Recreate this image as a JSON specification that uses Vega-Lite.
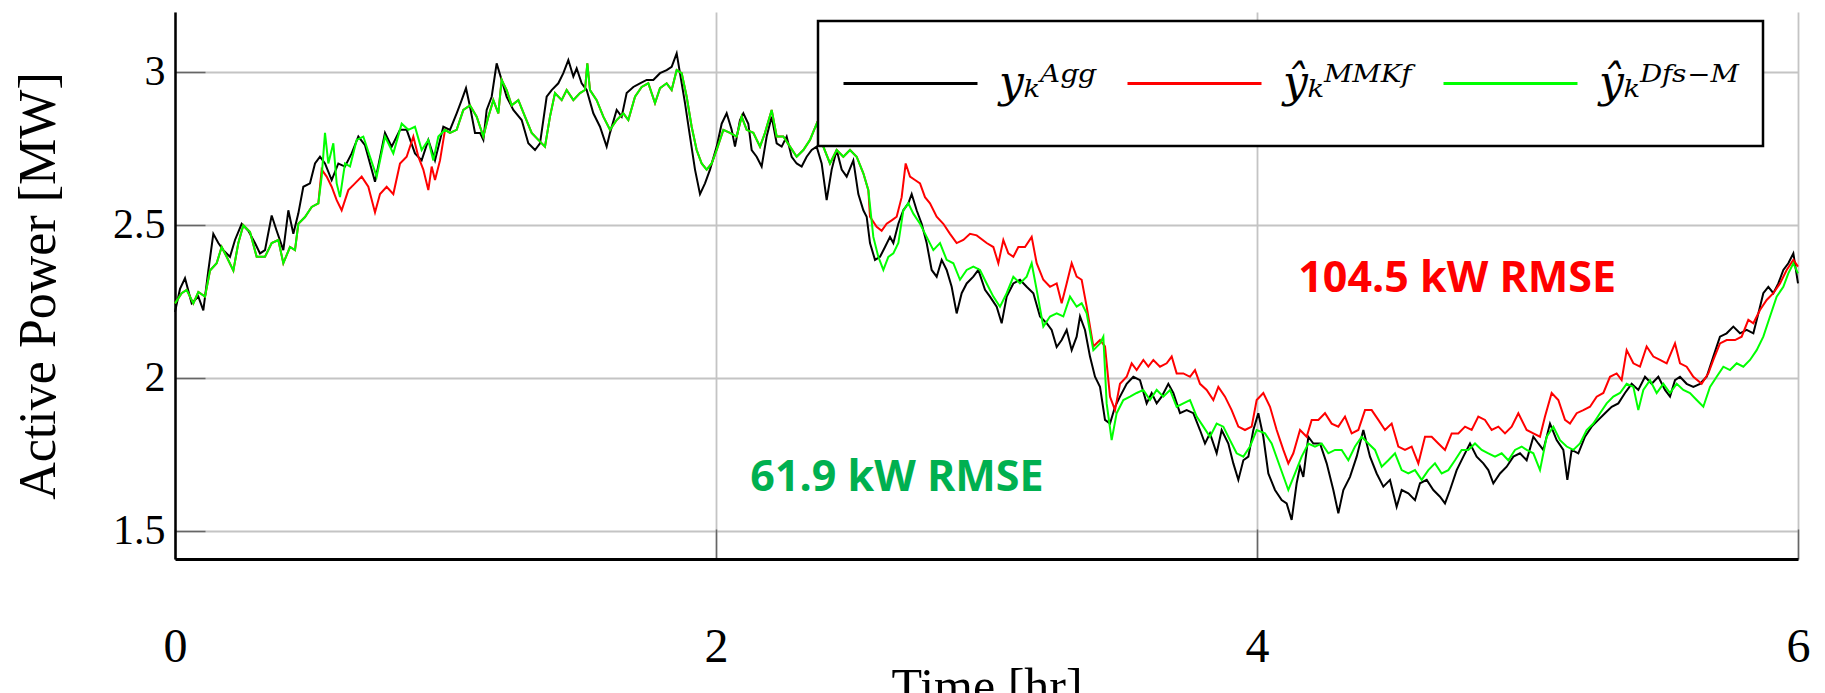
{
  "$schema": "https://vega.github.io/schema/vega-lite/v6.json",
  "width": 1623,
  "height": 547,
  "autosize": {"type": "none"},
  "padding": {"left": 175, "top": 12, "right": 27, "bottom": 134},
  "background": "white",
  "config": {
    "view": {"stroke": null},
    "legend": {"strokeWidth": 2.5}
  },
  "datasets": {
    "agg": [
      {"t":0,"v":2.215},{"t":0.0185,"v":2.29},{"t":0.037,"v":2.325},{"t":0.0616,"v":2.243},{"t":0.0863,"v":2.265},{"t":0.1047,"v":2.22},{"t":0.1232,"v":2.35},{"t":0.1417,"v":2.47},{"t":0.1602,"v":2.44},{"t":0.1787,"v":2.417},{"t":0.2033,"v":2.395},{"t":0.2218,"v":2.45},{"t":0.2465,"v":2.503},{"t":0.2711,"v":2.48},{"t":0.2957,"v":2.44},{"t":0.3142,"v":2.406},{"t":0.3327,"v":2.417},{"t":0.3574,"v":2.53},{"t":0.3758,"v":2.48},{"t":0.4005,"v":2.417},{"t":0.419,"v":2.547},{"t":0.4375,"v":2.47},{"t":0.456,"v":2.537},{"t":0.4744,"v":2.624},{"t":0.4991,"v":2.635},{"t":0.5176,"v":2.7},{"t":0.536,"v":2.722},{"t":0.5545,"v":2.7},{"t":0.5792,"v":2.646},{"t":0.6038,"v":2.7},{"t":0.6285,"v":2.69},{"t":0.6531,"v":2.733},{"t":0.6778,"v":2.788},{"t":0.7024,"v":2.76},{"t":0.7394,"v":2.64},{"t":0.7763,"v":2.8},{"t":0.801,"v":2.755},{"t":0.8318,"v":2.81},{"t":0.8564,"v":2.81},{"t":0.8872,"v":2.733},{"t":0.9119,"v":2.71},{"t":0.9365,"v":2.777},{"t":0.9612,"v":2.71},{"t":0.992,"v":2.82},
      {"t":1.0166,"v":2.81},{"t":1.0413,"v":2.864},{"t":1.0598,"v":2.907},{"t":1.0758,"v":2.946},{"t":1.0906,"v":2.886},{"t":1.1091,"v":2.8},{"t":1.1275,"v":2.8},{"t":1.1399,"v":2.777},{"t":1.1522,"v":2.875},{"t":1.1707,"v":2.918},{"t":1.1891,"v":3.027},{"t":1.2076,"v":2.973},{"t":1.2261,"v":2.918},{"t":1.2508,"v":2.875},{"t":1.2816,"v":2.842},{"t":1.3062,"v":2.766},{"t":1.3309,"v":2.744},{"t":1.3494,"v":2.766},{"t":1.374,"v":2.918},{"t":1.3925,"v":2.94},{"t":1.4171,"v":2.962},{"t":1.4356,"v":2.995},{"t":1.4541,"v":3.038},{"t":1.4726,"v":2.984},{"t":1.4849,"v":3.011},{"t":1.5034,"v":2.962},{"t":1.5219,"v":2.94},{"t":1.5465,"v":2.864},{"t":1.5712,"v":2.82},{"t":1.5958,"v":2.755},{"t":1.6081,"v":2.8},{"t":1.6328,"v":2.875},{"t":1.6513,"v":2.853},{"t":1.6697,"v":2.93},{"t":1.6944,"v":2.95},{"t":1.719,"v":2.962},{"t":1.7437,"v":2.973},{"t":1.7683,"v":2.973},{"t":1.793,"v":2.995},{"t":1.8176,"v":3.005},{"t":1.8361,"v":3.016},{"t":1.8546,"v":3.06},{"t":1.8669,"v":2.995},{"t":1.8854,"v":2.897},{"t":1.9039,"v":2.788},{"t":1.9224,"v":2.68},{"t":1.9409,"v":2.6},{"t":1.9593,"v":2.635},{"t":1.9778,"v":2.68},
      {"t":2.0025,"v":2.755},{"t":2.021,"v":2.83},{"t":2.0394,"v":2.864},{"t":2.0579,"v":2.81},{"t":2.0702,"v":2.755},{"t":2.0887,"v":2.842},{"t":2.1011,"v":2.864},{"t":2.1195,"v":2.83},{"t":2.1319,"v":2.744},{"t":2.1503,"v":2.722},{"t":2.1688,"v":2.69},{"t":2.1873,"v":2.788},{"t":2.2058,"v":2.853},{"t":2.2243,"v":2.766},{"t":2.2428,"v":2.755},{"t":2.2612,"v":2.788},{"t":2.2797,"v":2.722},{"t":2.2982,"v":2.7},{"t":2.3167,"v":2.69},{"t":2.3352,"v":2.722},{"t":2.3537,"v":2.744},{"t":2.3721,"v":2.755},{"t":2.3906,"v":2.7},{"t":2.4091,"v":2.58},{"t":2.4276,"v":2.68},{"t":2.4461,"v":2.744},{"t":2.4646,"v":2.68},{"t":2.4831,"v":2.657},{"t":2.5077,"v":2.71},{"t":2.5262,"v":2.6},{"t":2.5447,"v":2.547},{"t":2.557,"v":2.526},{"t":2.5693,"v":2.44},{"t":2.5878,"v":2.385},{"t":2.6063,"v":2.395},{"t":2.6248,"v":2.427},{"t":2.6433,"v":2.46},{"t":2.6556,"v":2.44},{"t":2.6741,"v":2.503},{"t":2.6925,"v":2.547},{"t":2.711,"v":2.57},{"t":2.7234,"v":2.6},{"t":2.7418,"v":2.547},{"t":2.7603,"v":2.503},{"t":2.7788,"v":2.44},{"t":2.7973,"v":2.352},{"t":2.8158,"v":2.33},{"t":2.8343,"v":2.385},{"t":2.8527,"v":2.352},{"t":2.8712,"v":2.297},{"t":2.8897,"v":2.21},{"t":2.9082,"v":2.276},{"t":2.9267,"v":2.308},{"t":2.9513,"v":2.33},{"t":2.9698,"v":2.352},
      {"t":2.9945,"v":2.287},{"t":3.0129,"v":2.265},{"t":3.0376,"v":2.232},{"t":3.0561,"v":2.178},{"t":3.0746,"v":2.265},{"t":3.0992,"v":2.308},{"t":3.1238,"v":2.32},{"t":3.1485,"v":2.297},{"t":3.1732,"v":2.276},{"t":3.1978,"v":2.2},{"t":3.2224,"v":2.178},{"t":3.2409,"v":2.156},{"t":3.2594,"v":2.1},{"t":3.2779,"v":2.123},{"t":3.2964,"v":2.156},{"t":3.3149,"v":2.09},{"t":3.3333,"v":2.134},{"t":3.3457,"v":2.2},{"t":3.3641,"v":2.156},{"t":3.3826,"v":2.069},{"t":3.4011,"v":2.003},{"t":3.4196,"v":1.97},{"t":3.4381,"v":1.862},{"t":3.4566,"v":1.85},{"t":3.4751,"v":1.905},{"t":3.4935,"v":1.938},{"t":3.5182,"v":1.98},{"t":3.5428,"v":2.003},{"t":3.5675,"v":1.992},{"t":3.5921,"v":1.916},{"t":3.6106,"v":1.95},{"t":3.6291,"v":1.916},{"t":3.6476,"v":1.938},{"t":3.6722,"v":1.98},{"t":3.6907,"v":1.95},{"t":3.7153,"v":1.884},{"t":3.74,"v":1.894},{"t":3.7646,"v":1.884},{"t":3.7893,"v":1.829},{"t":3.8078,"v":1.785},{"t":3.8262,"v":1.818},{"t":3.8509,"v":1.753},{"t":3.8694,"v":1.829},{"t":3.894,"v":1.785},{"t":3.9125,"v":1.72},{"t":3.931,"v":1.666},{"t":3.9495,"v":1.73},{"t":3.968,"v":1.742},{"t":3.9865,"v":1.829},
      {"t":4.0049,"v":1.884},{"t":4.0234,"v":1.807},{"t":4.0419,"v":1.687},{"t":4.0665,"v":1.633},{"t":4.0912,"v":1.6},{"t":4.1096,"v":1.589},{"t":4.1281,"v":1.535},{"t":4.1466,"v":1.655},{"t":4.159,"v":1.709},{"t":4.1713,"v":1.676},{"t":4.1898,"v":1.807},{"t":4.2083,"v":1.785},{"t":4.2329,"v":1.785},{"t":4.2576,"v":1.72},{"t":4.2822,"v":1.633},{"t":4.3007,"v":1.557},{"t":4.3192,"v":1.633},{"t":4.3438,"v":1.676},{"t":4.3685,"v":1.742},{"t":4.3931,"v":1.829},{"t":4.4178,"v":1.742},{"t":4.4424,"v":1.687},{"t":4.4671,"v":1.644},{"t":4.4917,"v":1.666},{"t":4.5163,"v":1.578},{"t":4.5348,"v":1.633},{"t":4.5595,"v":1.622},{"t":4.5841,"v":1.6},{"t":4.6026,"v":1.655},{"t":4.6273,"v":1.666},{"t":4.6519,"v":1.633},{"t":4.6765,"v":1.611},{"t":4.695,"v":1.589},{"t":4.7135,"v":1.633},{"t":4.7382,"v":1.698},{"t":4.7628,"v":1.742},{"t":4.7875,"v":1.785},{"t":4.8121,"v":1.742},{"t":4.8367,"v":1.72},{"t":4.8552,"v":1.698},{"t":4.8737,"v":1.655},{"t":4.8984,"v":1.687},{"t":4.923,"v":1.709},{"t":4.9477,"v":1.742},{"t":4.9723,"v":1.753},
      {"t":4.9969,"v":1.73},{"t":5.0216,"v":1.807},{"t":5.04,"v":1.785},{"t":5.0585,"v":1.764},{"t":5.0832,"v":1.85},{"t":5.1078,"v":1.796},{"t":5.1325,"v":1.764},{"t":5.1473,"v":1.666},{"t":5.1633,"v":1.764},{"t":5.1879,"v":1.753},{"t":5.2126,"v":1.807},{"t":5.2372,"v":1.84},{"t":5.2619,"v":1.862},{"t":5.2865,"v":1.884},{"t":5.3112,"v":1.905},{"t":5.3358,"v":1.916},{"t":5.3604,"v":1.95},{"t":5.3851,"v":1.98},{"t":5.4097,"v":1.96},{"t":5.4344,"v":2.003},{"t":5.459,"v":1.98},{"t":5.4837,"v":2.003},{"t":5.5083,"v":1.96},{"t":5.5268,"v":1.938},{"t":5.5453,"v":1.992},{"t":5.5638,"v":2.003},{"t":5.5884,"v":1.98},{"t":5.6131,"v":1.97},{"t":5.6377,"v":1.98},{"t":5.6624,"v":2.003},{"t":5.687,"v":2.069},{"t":5.7116,"v":2.134},{"t":5.7363,"v":2.145},{"t":5.7609,"v":2.167},{"t":5.7856,"v":2.145},{"t":5.8102,"v":2.156},{"t":5.8349,"v":2.145},{"t":5.8534,"v":2.21},{"t":5.8718,"v":2.276},{"t":5.8903,"v":2.297},{"t":5.9088,"v":2.276},{"t":5.9273,"v":2.308},{"t":5.9458,"v":2.352},{"t":5.9643,"v":2.374},{"t":5.9828,"v":2.406},{"t":6,"v":2.308}
    ],
    "mmkf": [
      {"t":0,"v":2.243},{"t":0.0246,"v":2.276},{"t":0.0431,"v":2.287},{"t":0.0678,"v":2.243},{"t":0.0863,"v":2.28},{"t":0.1109,"v":2.265},{"t":0.1294,"v":2.35},{"t":0.154,"v":2.374},{"t":0.1725,"v":2.427},{"t":0.191,"v":2.395},{"t":0.2157,"v":2.35},{"t":0.2341,"v":2.44},{"t":0.2526,"v":2.498},{"t":0.2773,"v":2.476},{"t":0.3019,"v":2.395},{"t":0.3327,"v":2.395},{"t":0.3574,"v":2.44},{"t":0.382,"v":2.45},{"t":0.4005,"v":2.374},{"t":0.4251,"v":2.427},{"t":0.4436,"v":2.417},{"t":0.456,"v":2.503},{"t":0.4806,"v":2.525},{"t":0.5052,"v":2.558},{"t":0.5299,"v":2.57},
      {"t":0.5422,"v":2.68},{"t":0.5607,"v":2.657},{"t":0.5792,"v":2.624},{"t":0.5977,"v":2.58},{"t":0.6161,"v":2.547},{"t":0.6408,"v":2.613},{"t":0.6654,"v":2.635},{"t":0.6901,"v":2.657},{"t":0.7147,"v":2.624},{"t":0.7394,"v":2.54},{"t":0.7579,"v":2.6},{"t":0.7825,"v":2.624},{"t":0.8071,"v":2.6},{"t":0.8318,"v":2.7},{"t":0.8564,"v":2.722},{"t":0.8811,"v":2.788},{"t":0.8996,"v":2.722},{"t":0.918,"v":2.68},{"t":0.9365,"v":2.613},{"t":0.9489,"v":2.69},{"t":0.9612,"v":2.646},{"t":0.9797,"v":2.71},{"t":0.9982,"v":2.81},
      {"t":1.0166,"v":2.8},{"t":1.0413,"v":2.81},{"t":1.0659,"v":2.875},{"t":1.0906,"v":2.89},{"t":1.1152,"v":2.853},{"t":1.1399,"v":2.788},{"t":1.1584,"v":2.853},{"t":1.1768,"v":2.907},{"t":1.1953,"v":2.864},{"t":1.2076,"v":2.973},{"t":1.2261,"v":2.94},{"t":1.2446,"v":2.89},{"t":1.2693,"v":2.907},{"t":1.2939,"v":2.853},{"t":1.3186,"v":2.8},{"t":1.3432,"v":2.777},{"t":1.3678,"v":2.755},{"t":1.3863,"v":2.853},{"t":1.4048,"v":2.93},{"t":1.4295,"v":2.907},{"t":1.4479,"v":2.94},{"t":1.4726,"v":2.907},{"t":1.4972,"v":2.93},{"t":1.5157,"v":2.94},{"t":1.5243,"v":3.027},{"t":1.5342,"v":2.94},{"t":1.5588,"v":2.907},{"t":1.5835,"v":2.853},{"t":1.6081,"v":2.81},{"t":1.6328,"v":2.842},{"t":1.6574,"v":2.864},{"t":1.6759,"v":2.842},{"t":1.7006,"v":2.918},{"t":1.7252,"v":2.95},{"t":1.7498,"v":2.962},{"t":1.7745,"v":2.897},{"t":1.793,"v":2.946},{"t":1.8176,"v":2.962},{"t":1.8361,"v":2.94},{"t":1.8546,"v":3.005},{"t":1.8731,"v":2.995},{"t":1.8916,"v":2.918},{"t":1.91,"v":2.82},{"t":1.9285,"v":2.744},{"t":1.947,"v":2.7},{"t":1.9655,"v":2.68},{"t":1.984,"v":2.7},
      {"t":2.0025,"v":2.744},{"t":2.0271,"v":2.81},{"t":2.0518,"v":2.8},{"t":2.0764,"v":2.788},{"t":2.0949,"v":2.853},{"t":2.1134,"v":2.81},{"t":2.138,"v":2.8},{"t":2.1627,"v":2.755},{"t":2.1811,"v":2.8},{"t":2.2058,"v":2.875},{"t":2.2243,"v":2.788},{"t":2.2489,"v":2.788},{"t":2.2736,"v":2.755},{"t":2.2982,"v":2.722},{"t":2.3229,"v":2.744},{"t":2.3475,"v":2.777},{"t":2.3721,"v":2.83},{"t":2.3968,"v":2.755},{"t":2.4214,"v":2.7},{"t":2.4461,"v":2.744},{"t":2.4707,"v":2.722},{"t":2.4954,"v":2.744},{"t":2.52,"v":2.722},{"t":2.5447,"v":2.668},{"t":2.5632,"v":2.613},
      {"t":2.5693,"v":2.526},{"t":2.5939,"v":2.493},{"t":2.6124,"v":2.48},{"t":2.6309,"v":2.503},{"t":2.6494,"v":2.514},{"t":2.6679,"v":2.526},{"t":2.6864,"v":2.59},{"t":2.7012,"v":2.7},{"t":2.7172,"v":2.657},{"t":2.7357,"v":2.646},{"t":2.7542,"v":2.635},{"t":2.7726,"v":2.59},{"t":2.7911,"v":2.57},{"t":2.8158,"v":2.526},{"t":2.8404,"v":2.503},{"t":2.8651,"v":2.47},{"t":2.8897,"v":2.44},{"t":2.9144,"v":2.45},{"t":2.939,"v":2.47},{"t":2.9637,"v":2.465},
      {"t":3.0006,"v":2.44},{"t":3.0253,"v":2.427},{"t":3.0438,"v":2.374},{"t":3.0622,"v":2.45},{"t":3.0807,"v":2.406},{"t":3.0992,"v":2.395},{"t":3.1177,"v":2.427},{"t":3.1423,"v":2.427},{"t":3.167,"v":2.46},{"t":3.1855,"v":2.374},{"t":3.2101,"v":2.32},{"t":3.2348,"v":2.297},{"t":3.2594,"v":2.308},{"t":3.2779,"v":2.243},{"t":3.2964,"v":2.308},{"t":3.3149,"v":2.374},{"t":3.3333,"v":2.33},{"t":3.3518,"v":2.32},{"t":3.3703,"v":2.232},{"t":3.395,"v":2.102},{"t":3.4196,"v":2.123},{"t":3.4381,"v":2.102},{"t":3.4566,"v":1.938},{"t":3.4751,"v":1.894},{"t":3.4935,"v":1.98},{"t":3.5182,"v":2.003},{"t":3.5367,"v":2.047},{"t":3.5551,"v":2.025},{"t":3.5798,"v":2.058},{"t":3.5983,"v":2.036},{"t":3.6168,"v":2.058},{"t":3.6414,"v":2.036},{"t":3.6661,"v":2.047},{"t":3.6846,"v":2.069},{"t":3.703,"v":2.014},{"t":3.7277,"v":2.014},{"t":3.7523,"v":2.003},{"t":3.7708,"v":2.025},{"t":3.7893,"v":1.98},{"t":3.8139,"v":1.96},{"t":3.8386,"v":1.927},{"t":3.8571,"v":1.97},{"t":3.8817,"v":1.938},{"t":3.9063,"v":1.894},{"t":3.931,"v":1.84},{"t":3.9556,"v":1.829},{"t":3.9803,"v":1.84},
      {"t":3.9988,"v":1.927},{"t":4.0234,"v":1.95},{"t":4.0481,"v":1.905},{"t":4.0727,"v":1.829},{"t":4.0974,"v":1.764},{"t":4.1158,"v":1.72},{"t":4.1343,"v":1.753},{"t":4.159,"v":1.829},{"t":4.1836,"v":1.807},{"t":4.2021,"v":1.862},{"t":4.2267,"v":1.862},{"t":4.2514,"v":1.884},{"t":4.276,"v":1.85},{"t":4.3007,"v":1.84},{"t":4.3253,"v":1.873},{"t":4.35,"v":1.818},{"t":4.3746,"v":1.829},{"t":4.3993,"v":1.894},{"t":4.4239,"v":1.894},{"t":4.4486,"v":1.862},{"t":4.4732,"v":1.829},{"t":4.4978,"v":1.85},{"t":4.5225,"v":1.775},{"t":4.5471,"v":1.764},{"t":4.5718,"v":1.775},{"t":4.5964,"v":1.72},{"t":4.6211,"v":1.807},{"t":4.6457,"v":1.807},{"t":4.6704,"v":1.785},{"t":4.695,"v":1.764},{"t":4.7197,"v":1.818},{"t":4.7443,"v":1.818},{"t":4.769,"v":1.84},{"t":4.7936,"v":1.829},{"t":4.8182,"v":1.873},{"t":4.8429,"v":1.862},{"t":4.8675,"v":1.829},{"t":4.8922,"v":1.84},{"t":4.9168,"v":1.818},{"t":4.9415,"v":1.84},{"t":4.9661,"v":1.884},
      {"t":4.9969,"v":1.829},{"t":5.0216,"v":1.818},{"t":5.0462,"v":1.807},{"t":5.0647,"v":1.873},{"t":5.0893,"v":1.95},{"t":5.114,"v":1.927},{"t":5.1386,"v":1.862},{"t":5.1571,"v":1.85},{"t":5.1818,"v":1.884},{"t":5.2064,"v":1.894},{"t":5.2311,"v":1.905},{"t":5.2557,"v":1.938},{"t":5.2804,"v":1.95},{"t":5.305,"v":2.003},{"t":5.3296,"v":2.014},{"t":5.3481,"v":1.992},{"t":5.3666,"v":2.09},{"t":5.3913,"v":2.047},{"t":5.4159,"v":2.036},{"t":5.4405,"v":2.102},{"t":5.4652,"v":2.069},{"t":5.4898,"v":2.058},{"t":5.5145,"v":2.047},{"t":5.5453,"v":2.112},{"t":5.5638,"v":2.047},{"t":5.5884,"v":2.036},{"t":5.6131,"v":2.003},{"t":5.6439,"v":1.98},{"t":5.6685,"v":2.014},{"t":5.687,"v":2.058},{"t":5.7116,"v":2.112},{"t":5.7363,"v":2.123},{"t":5.7671,"v":2.123},{"t":5.7917,"v":2.134},{"t":5.8164,"v":2.189},{"t":5.8349,"v":2.178},{"t":5.8595,"v":2.221},{"t":5.8842,"v":2.254},{"t":5.9088,"v":2.276},{"t":5.9335,"v":2.308},{"t":5.9581,"v":2.352},{"t":5.9828,"v":2.385},{"t":6,"v":2.363}
    ],
    "dfsm": [
      {"t":0,"v":2.243},{"t":0.0246,"v":2.276},{"t":0.0431,"v":2.287},{"t":0.0678,"v":2.243},{"t":0.0863,"v":2.28},{"t":0.1109,"v":2.265},{"t":0.1294,"v":2.35},{"t":0.154,"v":2.374},{"t":0.1725,"v":2.427},{"t":0.191,"v":2.395},{"t":0.2157,"v":2.35},{"t":0.2341,"v":2.44},{"t":0.2526,"v":2.498},{"t":0.2773,"v":2.476},{"t":0.3019,"v":2.395},{"t":0.3327,"v":2.395},{"t":0.3574,"v":2.44},{"t":0.382,"v":2.45},{"t":0.4005,"v":2.374},{"t":0.4251,"v":2.427},{"t":0.4436,"v":2.417},{"t":0.456,"v":2.503},{"t":0.4806,"v":2.525},{"t":0.5052,"v":2.558},{"t":0.5299,"v":2.57},{"t":0.5422,"v":2.657},{"t":0.5545,"v":2.8},{"t":0.5669,"v":2.7},{"t":0.5853,"v":2.766},{"t":0.5977,"v":2.635},{"t":0.61,"v":2.59},{"t":0.6285,"v":2.7},{"t":0.647,"v":2.69},{"t":0.6716,"v":2.777},{"t":0.6962,"v":2.788},{"t":0.7209,"v":2.722},{"t":0.7455,"v":2.657},{"t":0.7763,"v":2.788},{"t":0.8071,"v":2.733},{"t":0.838,"v":2.83},{"t":0.8626,"v":2.81},{"t":0.8872,"v":2.82},{"t":0.9119,"v":2.744},{"t":0.9365,"v":2.777},{"t":0.955,"v":2.71},{"t":0.9735,"v":2.788},{"t":0.9982,"v":2.81},
      {"t":1.0166,"v":2.8},{"t":1.0413,"v":2.81},{"t":1.0659,"v":2.875},{"t":1.0906,"v":2.89},{"t":1.1152,"v":2.853},{"t":1.1399,"v":2.788},{"t":1.1584,"v":2.853},{"t":1.1768,"v":2.907},{"t":1.1953,"v":2.864},{"t":1.2076,"v":2.973},{"t":1.2261,"v":2.94},{"t":1.2446,"v":2.89},{"t":1.2693,"v":2.907},{"t":1.2939,"v":2.853},{"t":1.3186,"v":2.8},{"t":1.3432,"v":2.777},{"t":1.3678,"v":2.755},{"t":1.3863,"v":2.853},{"t":1.4048,"v":2.93},{"t":1.4295,"v":2.907},{"t":1.4479,"v":2.94},{"t":1.4726,"v":2.907},{"t":1.4972,"v":2.93},{"t":1.5157,"v":2.94},{"t":1.5243,"v":3.027},{"t":1.5342,"v":2.94},{"t":1.5588,"v":2.907},{"t":1.5835,"v":2.853},{"t":1.6081,"v":2.81},{"t":1.6328,"v":2.842},{"t":1.6574,"v":2.864},{"t":1.6759,"v":2.842},{"t":1.7006,"v":2.918},{"t":1.7252,"v":2.95},{"t":1.7498,"v":2.962},{"t":1.7745,"v":2.897},{"t":1.793,"v":2.946},{"t":1.8176,"v":2.962},{"t":1.8361,"v":2.94},{"t":1.8546,"v":3.005},{"t":1.8731,"v":2.995},{"t":1.8916,"v":2.918},{"t":1.91,"v":2.82},{"t":1.9285,"v":2.744},{"t":1.947,"v":2.7},{"t":1.9655,"v":2.68},{"t":1.984,"v":2.7},
      {"t":2.0025,"v":2.744},{"t":2.0271,"v":2.81},{"t":2.0518,"v":2.8},{"t":2.0764,"v":2.788},{"t":2.0949,"v":2.853},{"t":2.1134,"v":2.81},{"t":2.138,"v":2.8},{"t":2.1627,"v":2.755},{"t":2.1811,"v":2.8},{"t":2.2058,"v":2.875},{"t":2.2243,"v":2.788},{"t":2.2489,"v":2.788},{"t":2.2736,"v":2.755},{"t":2.2982,"v":2.722},{"t":2.3229,"v":2.744},{"t":2.3475,"v":2.777},{"t":2.3721,"v":2.83},{"t":2.3968,"v":2.755},{"t":2.4214,"v":2.7},{"t":2.4461,"v":2.744},{"t":2.4707,"v":2.722},{"t":2.4954,"v":2.744},{"t":2.52,"v":2.722},{"t":2.5447,"v":2.668},{"t":2.5632,"v":2.613},{"t":2.5816,"v":2.46},{"t":2.6001,"v":2.395},{"t":2.6186,"v":2.352},{"t":2.6371,"v":2.395},{"t":2.6556,"v":2.406},{"t":2.6741,"v":2.44},{"t":2.6925,"v":2.547},{"t":2.711,"v":2.57},{"t":2.7295,"v":2.536},{"t":2.7542,"v":2.503},{"t":2.7788,"v":2.46},{"t":2.8034,"v":2.417},{"t":2.8281,"v":2.44},{"t":2.8527,"v":2.385},{"t":2.8774,"v":2.374},{"t":2.902,"v":2.32},{"t":2.9267,"v":2.352},{"t":2.9513,"v":2.363},{"t":2.976,"v":2.352},
      {"t":3.0006,"v":2.308},{"t":3.0253,"v":2.265},{"t":3.0499,"v":2.232},{"t":3.0746,"v":2.276},{"t":3.0992,"v":2.33},{"t":3.1238,"v":2.308},{"t":3.1485,"v":2.33},{"t":3.167,"v":2.374},{"t":3.1855,"v":2.287},{"t":3.2101,"v":2.167},{"t":3.2348,"v":2.2},{"t":3.2594,"v":2.21},{"t":3.284,"v":2.2},{"t":3.3087,"v":2.265},{"t":3.3333,"v":2.232},{"t":3.3518,"v":2.243},{"t":3.3703,"v":2.21},{"t":3.395,"v":2.09},{"t":3.4196,"v":2.112},{"t":3.4319,"v":2.134},{"t":3.4442,"v":1.916},{"t":3.4627,"v":1.796},{"t":3.4812,"v":1.884},{"t":3.5059,"v":1.927},{"t":3.5305,"v":1.938},{"t":3.5551,"v":1.95},{"t":3.5798,"v":1.96},{"t":3.6044,"v":1.927},{"t":3.6291,"v":1.96},{"t":3.6537,"v":1.938},{"t":3.6784,"v":1.96},{"t":3.703,"v":1.905},{"t":3.7277,"v":1.916},{"t":3.7523,"v":1.927},{"t":3.777,"v":1.873},{"t":3.8016,"v":1.84},{"t":3.8262,"v":1.807},{"t":3.8509,"v":1.85},{"t":3.8755,"v":1.84},{"t":3.9002,"v":1.796},{"t":3.9248,"v":1.753},{"t":3.9495,"v":1.742},{"t":3.9741,"v":1.775},{"t":3.9988,"v":1.829},
      {"t":4.0296,"v":1.818},{"t":4.0542,"v":1.785},{"t":4.085,"v":1.709},{"t":4.1158,"v":1.633},{"t":4.1405,"v":1.687},{"t":4.1651,"v":1.742},{"t":4.1898,"v":1.785},{"t":4.2144,"v":1.775},{"t":4.2391,"v":1.785},{"t":4.2637,"v":1.753},{"t":4.2884,"v":1.764},{"t":4.313,"v":1.764},{"t":4.3377,"v":1.73},{"t":4.3623,"v":1.775},{"t":4.3869,"v":1.807},{"t":4.4116,"v":1.785},{"t":4.4362,"v":1.764},{"t":4.4609,"v":1.709},{"t":4.4855,"v":1.73},{"t":4.5102,"v":1.753},{"t":4.5348,"v":1.698},{"t":4.5595,"v":1.687},{"t":4.5841,"v":1.698},{"t":4.6087,"v":1.666},{"t":4.6334,"v":1.698},{"t":4.658,"v":1.72},{"t":4.6827,"v":1.687},{"t":4.7073,"v":1.698},{"t":4.732,"v":1.73},{"t":4.7566,"v":1.764},{"t":4.7813,"v":1.764},{"t":4.8059,"v":1.785},{"t":4.8306,"v":1.764},{"t":4.8552,"v":1.753},{"t":4.8799,"v":1.742},{"t":4.9045,"v":1.753},{"t":4.9291,"v":1.73},{"t":4.9538,"v":1.764},{"t":4.9784,"v":1.775},
      {"t":4.9969,"v":1.764},{"t":5.0216,"v":1.753},{"t":5.0462,"v":1.698},{"t":5.0709,"v":1.807},{"t":5.0955,"v":1.84},{"t":5.1202,"v":1.796},{"t":5.1448,"v":1.775},{"t":5.1695,"v":1.764},{"t":5.1941,"v":1.785},{"t":5.2187,"v":1.829},{"t":5.2434,"v":1.85},{"t":5.268,"v":1.884},{"t":5.2927,"v":1.916},{"t":5.3173,"v":1.938},{"t":5.342,"v":1.95},{"t":5.3666,"v":1.98},{"t":5.3913,"v":1.97},{"t":5.4097,"v":1.894},{"t":5.4282,"v":1.96},{"t":5.4529,"v":1.992},{"t":5.4775,"v":1.95},{"t":5.5022,"v":1.98},{"t":5.5268,"v":1.95},{"t":5.5515,"v":1.98},{"t":5.5761,"v":1.96},{"t":5.6007,"v":1.95},{"t":5.6254,"v":1.927},{"t":5.65,"v":1.905},{"t":5.6747,"v":1.97},{"t":5.6993,"v":2.003},{"t":5.724,"v":2.036},{"t":5.7486,"v":2.025},{"t":5.7733,"v":2.047},{"t":5.7979,"v":2.036},{"t":5.8226,"v":2.058},{"t":5.8472,"v":2.09},{"t":5.8718,"v":2.134},{"t":5.8965,"v":2.2},{"t":5.9211,"v":2.265},{"t":5.9458,"v":2.297},{"t":5.9643,"v":2.341},{"t":5.9828,"v":2.374},{"t":6,"v":2.341}
    ],
    "notes": [
      {"label": "104.5 kW RMSE", "series": "MMKF"},
      {"label": "61.9 kW RMSE", "series": "DFS-M"}
    ]
  },
  "layer": [
    {
      "data": {"name": "agg"},
      "mark": {"type": "line", "strokeWidth": 2},
      "encoding": {
        "x": {
          "field": "t", "type": "quantitative",
          "scale": {"domain": [0, 6], "nice": false},
          "axis": {
            "values": [0, 2, 4, 6], "labelExpr": "'' + datum.value", "title": "Time [hr]",
            "titleFont": "Liberation Serif", "titleFontSize": 50, "titleFontWeight": "normal", "titleColor": "black", "titlePadding": -9,
            "labelFont": "Liberation Serif", "labelFontSize": 48, "labelColor": "black", "labelPadding": 94, "labelFlush": false, "labelOverlap": false,
            "tickSize": -30, "tickColor": "#666666", "tickWidth": 1.5,
            "domainColor": "black", "domainWidth": 3,
            "grid": true, "gridColor": "#c4c4c4", "gridWidth": 1.8
          }
        },
        "y": {
          "field": "v", "type": "quantitative",
          "scale": {"domain": [1.4075, 3.195], "nice": false, "zero": false},
          "axis": {
            "values": [1.5, 2, 2.5, 3], "labelExpr": "'' + datum.value", "title": "Active Power [MW]",
            "titleFont": "Liberation Serif", "titleFontSize": 52, "titleFontWeight": "normal", "titleColor": "black", "titlePadding": 47,
            "labelFont": "Liberation Serif", "labelFontSize": 42, "labelColor": "black", "labelPadding": 40, "labelOverlap": false,
            "tickSize": -30, "tickColor": "#666666", "tickWidth": 1.5,
            "domainColor": "black", "domainWidth": 2.5,
            "grid": true, "gridColor": "#c4c4c4", "gridWidth": 1.8
          }
        },
        "color": {
          "datum": "Agg",
          "scale": {"domain": ["Agg", "MMKF", "DFS-M"], "range": ["#000000", "#ff0000", "#00ff00"]},
          "legend": {
            "title": null, "orient": "none", "legendX": 643, "legendY": 9, "direction": "horizontal",
            "symbolType": "stroke", "symbolSize": 17956, "symbolStrokeWidth": 3, "clipHeight": 77,
            "labelFont": "DejaVu Serif", "labelFontStyle": "italic", "labelFontSize": 44, "labelColor": "black", "labelLimit": 400,
            "labelOffset": 20, "columnPadding": 30, "padding": 24,
            "strokeColor": "black", "fillColor": "white",
            "labelExpr": "datum.value == 'Agg' ? 'yₖᴬᵍᵍ' : datum.value == 'MMKF' ? 'ŷₖᴹᴹᴷᶠ' : 'ŷₖᴰᶠˢ⁻ᴹ'"
          }
        }
      }
    },
    {
      "data": {"name": "mmkf"},
      "mark": {"type": "line", "strokeWidth": 2},
      "encoding": {
        "x": {"field": "t", "type": "quantitative"},
        "y": {"field": "v", "type": "quantitative"},
        "color": {"datum": "MMKF"}
      }
    },
    {
      "data": {"name": "dfsm"},
      "mark": {"type": "line", "strokeWidth": 2},
      "encoding": {
        "x": {"field": "t", "type": "quantitative"},
        "y": {"field": "v", "type": "quantitative"},
        "color": {"datum": "DFS-M"}
      }
    },
    {
      "data": {"name": "notes"},
      "transform": [{"filter": "datum.series == 'MMKF'"}],
      "mark": {"type": "text", "font": "Open Sans", "fontWeight": "bold", "fontSize": 43, "fill": "#ff0000", "align": "center", "baseline": "middle"},
      "encoding": {
        "x": {"datum": 4.74, "type": "quantitative"},
        "y": {"datum": 2.322, "type": "quantitative"},
        "text": {"field": "label", "type": "nominal"}
      }
    },
    {
      "data": {"name": "notes"},
      "transform": [{"filter": "datum.series == 'DFS-M'"}],
      "mark": {"type": "text", "font": "Open Sans", "fontWeight": "bold", "fontSize": 43, "fill": "#00b050", "align": "center", "baseline": "middle"},
      "encoding": {
        "x": {"datum": 2.669, "type": "quantitative"},
        "y": {"datum": 1.671, "type": "quantitative"},
        "text": {"field": "label", "type": "nominal"}
      }
    }
  ]
}
